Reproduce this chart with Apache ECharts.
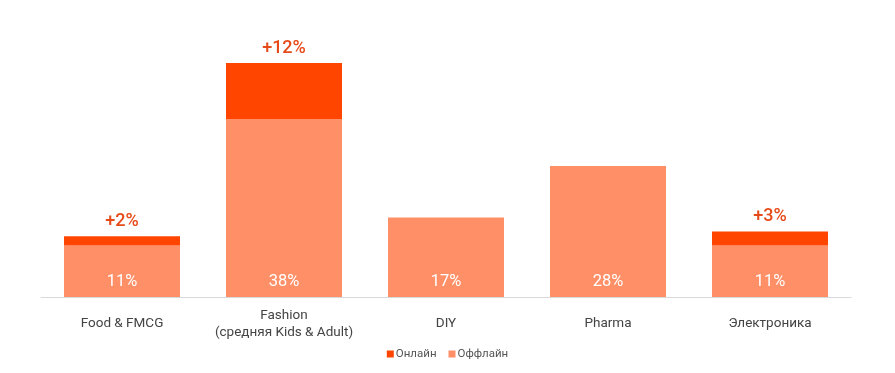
<!DOCTYPE html>
<html><head><meta charset="utf-8">
<script src="https://cdn.jsdelivr.net/npm/echarts@6/dist/echarts.min.js"></script>
<style>html,body{margin:0;padding:0;background:#fff}#c{width:895px;height:373px}</style>
</head><body><div id="c"></div>
<script>
const categories = ['Food & FMCG', 'Fashion\n(средняя Kids & Adult)', 'DIY', 'Pharma', 'Электроника'];
const offline = [11, 38, 17, 28, 11];
const online = [2, 12, null, null, 3];
const seriesNames = ['Онлайн', 'Оффлайн'];

const chart = echarts.init(document.getElementById('c'));
chart.setOption({
  animation: false,
  textStyle: { fontFamily: 'Roboto' },
  grid: { left: 41, right: 44, top: 63, bottom: 76 },
  legend: {
    data: seriesNames,
    bottom: 8,
    left: 'center',
    itemWidth: 7, itemHeight: 7, itemGap: 12,
    icon: 'rect',
    textStyle: { fontSize: 11.5, color: '#555', padding: [0, 0, 0, -3] }
  },
  xAxis: {
    type: 'category',
    data: categories,
    axisLine: { lineStyle: { color: '#d9d9d9', width: 1 } },
    axisTick: { show: false },
    axisLabel: { color: '#444', fontSize: 13.5, lineHeight: 17, margin: 27, verticalAlign: 'middle', interval: 0 }
  },
  yAxis: { type: 'value', min: 0, max: 50, show: false, splitLine: { show: false } },
  series: [
    {
      name: seriesNames[1], type: 'bar', stack: 's', data: offline,
      barWidth: '71.6%',
      itemStyle: { color: '#FF8F66' },
      label: { show: true, position: 'insideBottom', distance: 7, color: '#fff', fontSize: 16.5, formatter: p => p.value + '%' }
    },
    {
      name: seriesNames[0], type: 'bar', stack: 's', data: online,
      barWidth: '71.6%',
      itemStyle: { color: '#FF4500' },
      label: { show: true, position: 'top', distance: 6, color: '#E64A19', fontSize: 18, fontWeight: 500, formatter: p => (p.value ? '+' + p.value + '%' : '') }
    }
  ]
});
</script></body></html>
